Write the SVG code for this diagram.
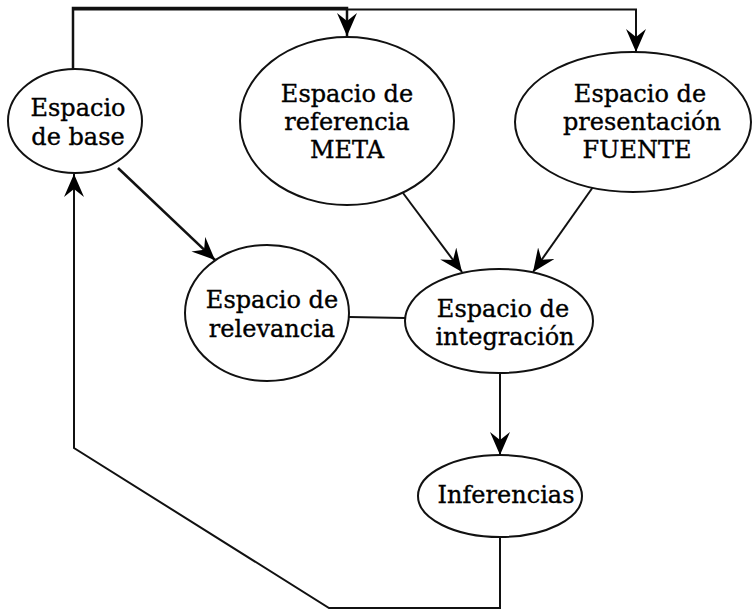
<svg xmlns="http://www.w3.org/2000/svg" width="752" height="611" viewBox="0 0 752 611">
<style>
.node ellipse{fill:#fff;stroke:#111;stroke-width:2}
.node text{font-family:"DejaVu Serif",serif;font-size:24px;fill:#000;stroke:#000;stroke-width:0.35;text-anchor:middle}
.edge{fill:none;stroke:#111;stroke-width:2}
.thick{stroke-width:2.5}
</style>
<defs>
<marker id="ah" markerUnits="userSpaceOnUse" markerWidth="26" markerHeight="22" refX="23" refY="10" orient="auto">
<path d="M0,0 L23,10 L0,20 L8,10 z" fill="#000"/>
</marker>
</defs>
<rect width="752" height="611" fill="#fff"/>
<g id="connectors">
<path class="edge thick" d="M73,69 V8 H347 V36" marker-end="url(#ah)"/>
<path class="edge" d="M73,69 V9.5 H636 V52" marker-end="url(#ah)"/>
<path class="edge thick" d="M118,168 L215,260" marker-end="url(#ah)"/>
<path class="edge" d="M403,193 L462,272" marker-end="url(#ah)"/>
<path class="edge" d="M593,187 L533,272" marker-end="url(#ah)"/>
<path class="edge" d="M349,317 L405,318"/>
<path class="edge" d="M500,373 V455" marker-end="url(#ah)"/>
<path class="edge" d="M500,537 V608 H329 L74,448 V174" marker-end="url(#ah)"/>
</g>
<g id="base" class="node">
<ellipse cx="75" cy="121" rx="67" ry="52"/>
<text x="78" y="116">Espacio</text>
<text x="78" y="145">de base</text>
</g>
<g id="meta" class="node">
<ellipse cx="347" cy="121" rx="107" ry="84"/>
<text x="347" y="102">Espacio de</text>
<text x="347" y="130">referencia</text>
<text x="347" y="158">META</text>
</g>
<g id="fuente" class="node">
<ellipse cx="633" cy="122" rx="118" ry="70"/>
<text x="640" y="102">Espacio de</text>
<text x="642" y="130">presentación</text>
<text x="637" y="158">FUENTE</text>
</g>
<g id="relevancia" class="node">
<ellipse cx="267" cy="313" rx="82" ry="68"/>
<text x="272" y="308">Espacio de</text>
<text x="272" y="337">relevancia</text>
</g>
<g id="integracion" class="node">
<ellipse cx="499" cy="321" rx="94" ry="52"/>
<text x="503" y="317">Espacio de</text>
<text x="505" y="345">integración</text>
</g>
<g id="inferencias" class="node">
<ellipse cx="500" cy="496" rx="82" ry="41"/>
<text x="506" y="503">Inferencias</text>
</g>
</svg>
